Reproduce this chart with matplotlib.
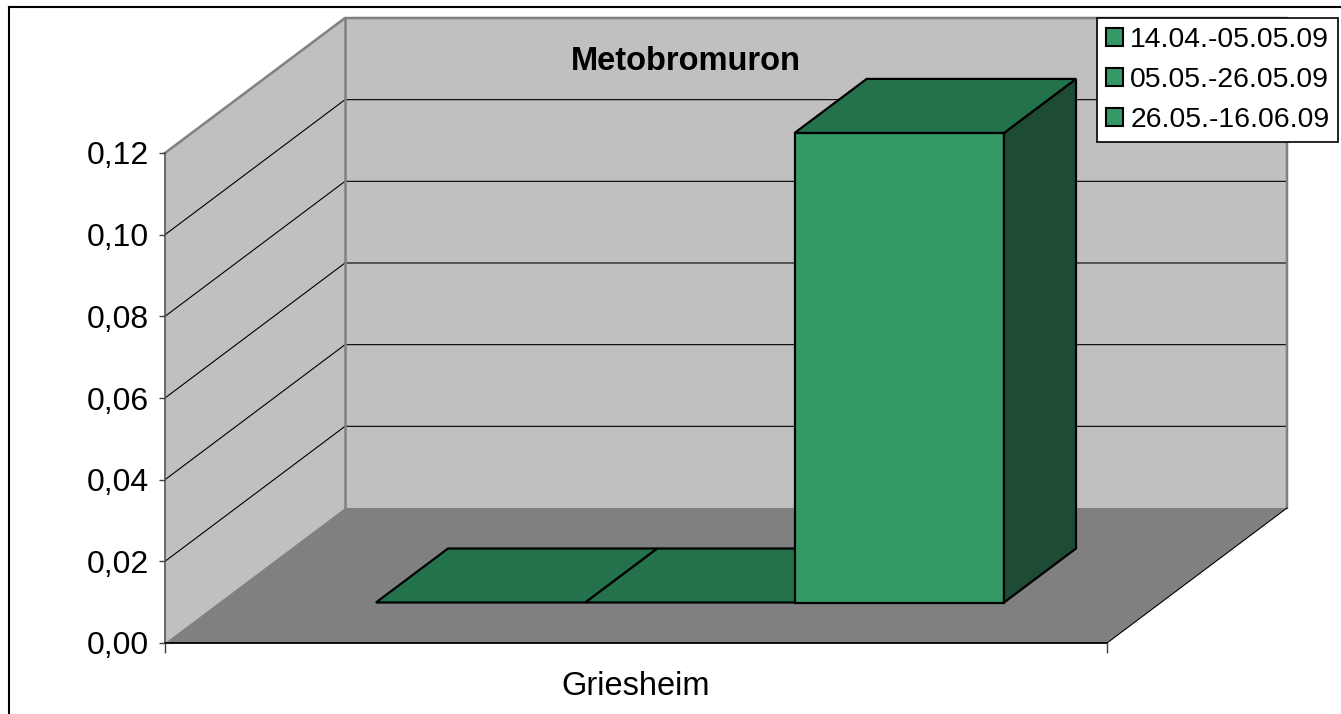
import matplotlib.pyplot as plt
import numpy as np
from matplotlib.patches import Polygon, Patch
from matplotlib.lines import Line2D
from matplotlib.ticker import FuncFormatter

plt.rcParams['font.family'] = ['Liberation Sans', 'DejaVu Sans']

# data
title = "Metobromuron"
category = "Griesheim"
series = ["14.04.-05.05.09", "05.05.-26.05.09", "26.05.-16.06.09"]
values = [0.0, 0.0, 0.115]
yticks = [0.00, 0.02, 0.04, 0.06, 0.08, 0.10, 0.12]

# colours
c_front = "#339966"
c_top = "#24724C"
c_side = "#1D4B34"
c_wall = "#C0C0C0"
c_floor = "#808080"

W, H = 1341, 714
fig = plt.figure(figsize=(W / 100, H / 100), dpi=100)
# axes: front plane of the 3d box
ax = fig.add_axes([165 / W, (H - 643) / H, 942 / W, 490 / H])
ymax = yticks[-1]
ax.set_xlim(0, 1)
ax.set_ylim(0, ymax)
ax.patch.set_visible(False)

# oblique depth offset (in data units)
DX = 180 / 942
DY = 135 * ymax / 490


def P(x, v, d):
    return (x + d * DX, v + d * DY)


def poly(pts, fc, ec="none", lw=0, z=1):
    ax.add_patch(Polygon(pts, closed=True, facecolor=fc, edgecolor=ec,
                         linewidth=lw, clip_on=False, zorder=z, joinstyle="miter"))


# walls and floor
poly([P(0, 0, 0), P(0, ymax, 0), P(0, ymax, 1), P(0, 0, 1)], c_wall, z=0.5)
poly([P(0, 0, 1), P(0, ymax, 1), P(1, ymax, 1), P(1, 0, 1)], c_wall, z=0.5)
for v in yticks[1:-1]:
    xs, ys = zip(P(0, v, 0), P(0, v, 1), P(1, v, 1))
    ax.plot(xs, ys, color="black", lw=0.8, clip_on=False, zorder=0.6)
# wall outlines
xs, ys = zip(P(0, ymax, 0), P(0, ymax, 1), P(1, ymax, 1), P(1, 0, 1))
ax.plot(xs, ys, color="#808080", lw=1.8, clip_on=False, zorder=0.7)
xs, ys = zip(P(0, ymax, 1), P(0, 0, 1))
ax.plot(xs, ys, color="#808080", lw=1.8, clip_on=False, zorder=0.7)
poly([P(0, 0, 0), P(1, 0, 0), P(1, 0, 1), P(0, 0, 1)], c_floor, z=0.8)
xs, ys = zip(P(1, 0, 0), P(1, 0, 1))
ax.plot(xs, ys, color="black", lw=0.8, clip_on=False, zorder=0.9)

# bars (gap width 150%)
n = len(values)
w = 1 / (n + 1.5)
gap = 0.75 * w
d0, d1 = 0.3, 0.7
for i, v in enumerate(values):
    x0 = gap + i * w
    x1 = x0 + w
    if v > 0:
        poly([P(x0, 0, d0), P(x1, 0, d0), P(x1, v, d0), P(x0, v, d0)],
             c_front, "black", 1.6, z=2 + i)
        poly([P(x1, 0, d0), P(x1, 0, d1), P(x1, v, d1), P(x1, v, d0)],
             c_side, "black", 1.6, z=2 + i)
    poly([P(x0, v, d0), P(x1, v, d0), P(x1, v, d1), P(x0, v, d1)],
         c_top, "black", 1.6, z=2 + i)

# axes styling
for s in ["top", "right"]:
    ax.spines[s].set_visible(False)
ax.spines["left"].set_color("#606060")
ax.spines["left"].set_linewidth(1.3)
ax.spines["bottom"].set_color("black")
ax.spines["bottom"].set_linewidth(1.3)
ax.spines["left"].set_zorder(1)
ax.spines["bottom"].set_zorder(1)

ax.set_yticks(yticks)
ax.yaxis.set_major_formatter(FuncFormatter(lambda v, p: f"{v:.2f}".replace(".", ",")))
ax.tick_params(axis="y", length=4.5, width=1, color="#404040", pad=7, labelsize=23)
ax.set_xticks([0, 1], ["", ""])
ax.tick_params(axis="x", which="major", length=7.5, width=1, color="#404040")
ax.set_xticks([0.5], [category], minor=True)
ax.tick_params(axis="x", which="minor", length=0, pad=20, labelsize=23.5)

fig.text(686 / W, 1 - 61 / H, title, fontsize=23.5, fontweight="bold",
         ha="center", va="center")

# legend
handles = [Patch(facecolor=c_front, edgecolor="black", linewidth=1.5) for _ in series]
leg = fig.legend(handles, series, loc="upper left",
                 bbox_to_anchor=(1097 / W, 1 - 18 / H), fontsize=20.4,
                 frameon=True, fancybox=False, framealpha=1, edgecolor="black",
                 borderpad=0.32, labelspacing=0.5, handlelength=0.6,
                 handleheight=0.6, handletextpad=0.25, borderaxespad=0)
leg.get_frame().set_linewidth(1.2)

# chart area border
fig.add_artist(Line2D([9 / W, 9 / W], [0, 1 - 7 / H], color="black", lw=1.5))
fig.add_artist(Line2D([9 / W, 1], [1 - 7 / H, 1 - 7 / H], color="black", lw=1.5))

fig.savefig("out.png", dpi=100)
